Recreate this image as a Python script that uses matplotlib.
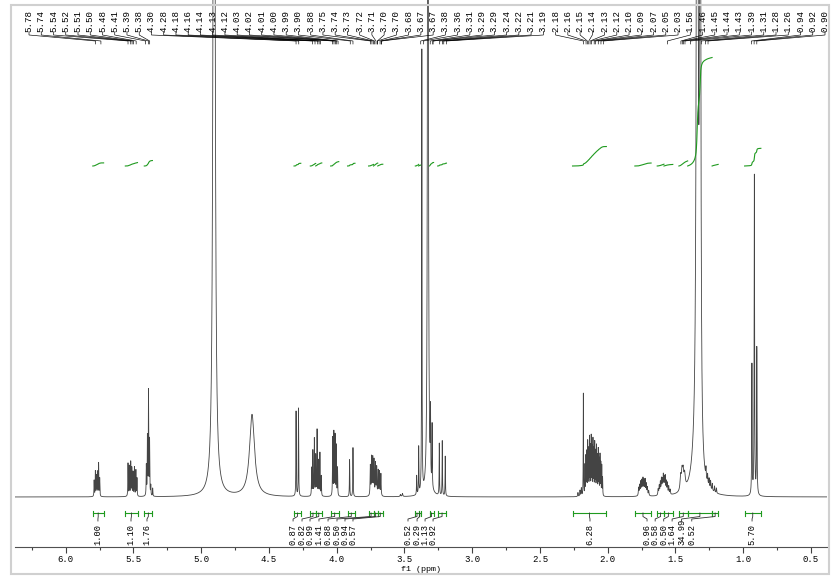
import matplotlib
matplotlib.use("Agg")
import matplotlib.pyplot as plt
from matplotlib.patches import Rectangle
import numpy as np

# peaks: position (ppm), height above baseline, lorentz half width (ppm)
peak_ppm = [5.790, 5.781, 5.773, 5.766, 5.757, 5.749,
            5.540, 5.530, 5.520, 5.512, 5.503, 5.493, 5.482, 5.474,
            5.405, 5.397, 5.389, 5.381, 5.372, 5.358,
            4.905, 4.625, 4.300, 4.282,
            4.185, 4.176, 4.165, 4.155, 4.145, 4.134, 4.124, 4.114,
            4.030, 4.021, 4.012, 4.003, 3.994, 3.905, 3.880,
            3.752, 3.743, 3.734, 3.725, 3.714, 3.705, 3.694, 3.684, 3.674,
            3.530, 3.515,
            3.410, 3.395, 3.372, 3.327, 3.308, 3.296, 3.243, 3.221, 3.199,
            2.220, 2.205, 2.195, 2.180,
            2.168, 2.161, 2.155, 2.148, 2.142, 2.135, 2.129, 2.122, 2.116, 2.109, 2.103,
            2.096, 2.090, 2.083, 2.077, 2.070, 2.064, 2.057, 2.051, 2.044, 2.038,
            1.772, 1.764, 1.756, 1.748, 1.740, 1.732, 1.724, 1.716, 1.708, 1.698,
            1.628, 1.620, 1.612, 1.604, 1.597, 1.590, 1.583, 1.576, 1.568, 1.560, 1.550, 1.540,
            1.462, 1.452, 1.444, 1.433,
            1.340, 1.318, 1.355,
            1.275, 1.263, 1.252, 1.241, 1.228, 1.212, 1.198,
            0.936, 0.918, 0.900]
peak_height = [16, 25, 20, 24, 33, 18,
               33, 30, 34, 28, 24, 29, 26, 18,
               30, 58, 104, 55, 10, 8,
               1500, 82, 85, 88,
               28, 45, 57, 40, 66, 35, 43, 20,
               58, 63, 60, 50, 28, 37, 49,
               30, 38, 37, 35, 32, 28, 25, 24, 22,
               2, 3,
               19, 47, 445, 1200, 65, 62, 52, 55, 40,
               4, 6, 8, 103,
               30, 38, 42, 52, 44, 56, 47, 57, 46, 54, 44,
               51, 42, 48, 38, 45, 35, 40, 32, 30, 18,
               8, 10, 13, 14, 16, 14, 15, 11, 8, 5,
               6, 9, 12, 15, 13, 18, 15, 17, 12, 11, 8, 5,
               14, 17, 16, 14,
               1400, 1100, 25,
               10, 9, 8, 8, 7, 6, 5,
               130, 320, 147]
peak_width = ([0.0015] * 20 + [0.006, 0.022, 0.0015, 0.0015] + [0.0015] * 8 +
              [0.0015] * 7 + [0.002] * 9 + [0.003, 0.003] +
              [0.0015, 0.0015, 0.0015, 0.003, 0.0015, 0.0015, 0.0015, 0.0015, 0.0015] +
              [0.002, 0.002, 0.002, 0.0012] + [0.0013] * 21 +
              [0.0025] * 10 + [0.0025] * 12 + [0.005, 0.005, 0.005, 0.006] +
              [0.005, 0.004, 0.03] + [0.002] * 7 + [0.0018] * 3)

# peak picking labels (top)
peak_labels = [5.78, 5.74, 5.54, 5.52, 5.51, 5.50, 5.48, 5.41, 5.39, 5.38,
               4.30, 4.28, 4.18, 4.16, 4.14, 4.13, 4.12, 4.03, 4.02, 4.01, 4.00, 3.99,
               3.90, 3.88, 3.75, 3.74, 3.73, 3.72, 3.71, 3.70, 3.70, 3.68, 3.67, 3.67,
               3.38, 3.36, 3.31, 3.29, 3.29, 3.24, 3.22, 3.21, 3.19,
               2.18, 2.16, 2.15, 2.14, 2.13, 2.12, 2.10, 2.09, 2.07, 2.05, 2.03,
               1.56, 1.46, 1.45, 1.44, 1.43, 1.39, 1.31, 1.28, 1.26, 0.94, 0.92, 0.90]

# integration regions (from, to in ppm) and values
int_from = [5.80, 5.56, 5.42, 4.315, 4.195, 4.155, 4.045, 3.92, 3.765, 3.728, 3.697,
            3.42, 3.395, 3.315, 3.255, 2.26, 1.80, 1.635, 1.585, 1.475, 1.41, 1.23, 0.99]
int_to = [5.72, 5.47, 5.36, 4.265, 4.155, 4.11, 3.985, 3.865, 3.728, 3.697, 3.66,
          3.395, 3.38, 3.285, 3.19, 2.01, 1.68, 1.585, 1.52, 1.41, 1.23, 1.185, 0.87]
int_values = [1.00, 1.10, 1.76, 0.87, 0.82, 0.99, 1.41, 0.88, 0.50, 0.94, 0.57,
              0.52, 0.29, 1.13, 0.92, 6.28, 0.96, 0.58, 0.50, 1.64, 34.99, 0.52, 5.70]
# where the integral numbers are placed (dodged like the original)
int_label_pos = [5.762, 5.518, 5.400, 4.322, 4.256, 4.197, 4.131, 4.064, 3.998, 3.939, 3.880,
                 3.474, 3.407, 3.348, 3.289, 2.131, 1.710, 1.650, 1.587, 1.525, 1.455, 1.380, 0.935]

green = '#1f9a1f'
mono = 'Liberation Mono'

ppm = np.linspace(6.374, 0.382, 24000)
spec = np.zeros_like(ppm)
for p, h, w in zip(peak_ppm, peak_height, peak_width):
    spec += h / (1 + ((ppm - p) / w) ** 2)

W, H = 834, 584
fig = plt.figure(figsize=(W / 100, H / 100), dpi=100)
ax = fig.add_axes([15 / W, (H - 547) / H, (827 - 15) / W, 547 / H])
ax.set_xlim(6.374, 0.382)
ax.set_ylim(-50, 497)

ax.plot(ppm, spec, color='#444444', lw=0.6, zorder=1)

for s in ['top', 'left', 'right']:
    ax.spines[s].set_visible(False)
ax.spines['bottom'].set_color('#505050')
ax.spines['bottom'].set_linewidth(0.8)
ax.set_yticks([])
ax.set_xticks(np.arange(0.5, 6.01, 0.5))
ax.set_xticks(np.arange(0.75, 6.3, 0.5), minor=True)
ax.set_xticklabels(['%.1f' % t for t in np.arange(0.5, 6.01, 0.5)], family=mono, fontsize=6.5)
ax.tick_params(axis='x', which='major', direction='out', length=4, width=0.8, pad=2, colors='#404040')
ax.tick_params(axis='x', which='minor', direction='out', length=2.5, width=0.8, colors='#404040')
for lab in ax.get_xticklabels():
    lab.set_color('black')
ax.set_xlabel('f1 (ppm)', family=mono, fontsize=6, labelpad=1)

# peak labels along the top
x0, x1 = ax.get_xlim()
lab_x = x0 + (x1 - x0) * np.linspace((29 - 15) / 812, (825 - 15) / 812, len(peak_labels))
for lx, p in zip(lab_x, peak_labels):
    ax.text(lx, 465, '%.2f' % p, rotation=90, ha='center', va='bottom',
            fontsize=6.6, family=mono, zorder=3)
    ax.plot([lx, lx, p, p], [465, 462, 456, 453], color='black', lw=0.45, zorder=3)

# integrals
for a, b, v, lx in zip(int_from, int_to, int_values, int_label_pos):
    m = (ppm <= a) & (ppm >= b)
    cum = np.cumsum(spec[m])
    cum = cum / cum[-1] * v * 3.1
    ax.plot(ppm[m], 331 + cum, color=green, lw=0.8, zorder=2)
    ax.plot([a, b], [-16, -16], color=green, lw=0.8)
    ax.plot([a, a], [-13.5, -18.5], color=green, lw=0.8)
    ax.plot([b, b], [-13.5, -18.5], color=green, lw=0.8)
    mid = (a + b) / 2
    ax.plot([mid, mid, lx, lx], [-16, -19.5, -22, -24], color='#303030', lw=0.6)
    ax.text(lx, -48, '%.2f' % v, rotation=90, ha='center', va='bottom',
            fontsize=6.3, family=mono)

fig.patches.append(Rectangle((11 / W, (H - 574) / H), (829 - 11) / W, (574 - 5) / H,
                             transform=fig.transFigure, fill=False, ec='#d0d0d0', lw=1.5))

fig.savefig('out.png', dpi=100)
